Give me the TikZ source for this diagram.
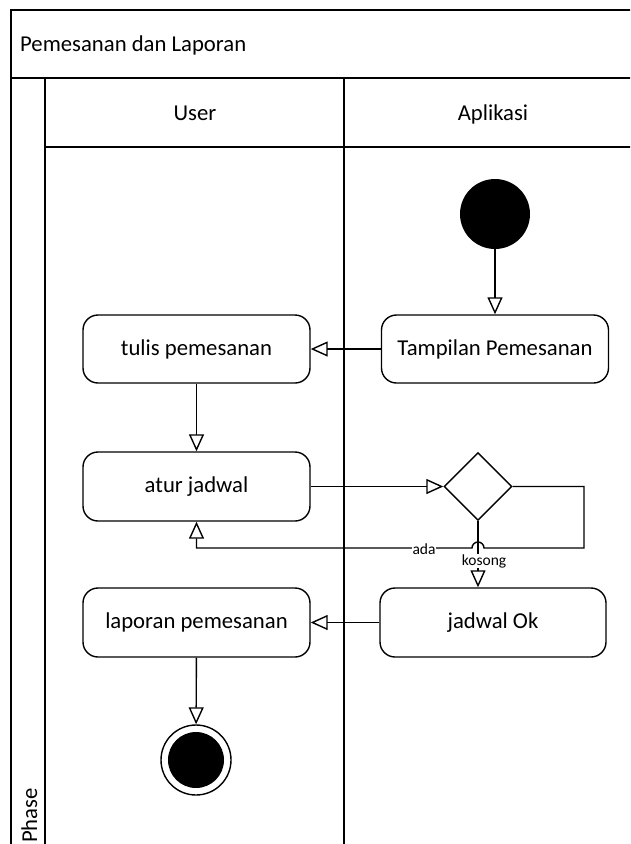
\documentclass[tikz,border=0pt]{standalone}
\usepackage{fontspec}
\setmainfont{Carlito}
\usetikzlibrary{arrows.meta,shapes.geometric}
\begin{document}
\begin{tikzpicture}[x=1pt,y=-1pt,
  ln/.style={line width=1.5pt},
  act/.style={draw,line width=1.4pt,rounded corners=15pt,minimum width=227pt,minimum height=68pt,inner sep=0pt,font=\fontsize{22.7}{27}\selectfont},
  flow/.style={line width=1.4pt,-{Triangle[open,length=17pt,width=15pt,fill=white]}},
  lbl/.style={font=\fontsize{15.5}{18}\selectfont,fill=white,inner sep=0.5pt},
  big/.style={font=\fontsize{22.7}{27}\selectfont,inner sep=0pt}]
\useasboundingbox (0,0) rectangle (630,844);
\fill[white] (0,0) rectangle (630,844);
\clip (0,0) rectangle (630,844);
% frame and lanes
\draw[ln] (11,870) -- (11,10) -- (660,10);
\draw[ln] (11,78) -- (660,78);
\draw[ln] (45,78) -- (45,870);
\draw[ln] (45,147) -- (660,147);
\draw[ln] (344,78) -- (344,870);
\node[big,anchor=west] (title) at (20,45) {Pemesanan dan Laporan};
\node[big,anchor=base] (user) at (195,120) {User};
\node[big,anchor=base] (apl) at (493,120) {Aplikasi};
\node[big,rotate=90,anchor=base west] (phase) at (37,843) {Phase};
% nodes
\node[circle,fill=black,minimum size=70pt,inner sep=0pt] (start) at (495,214) {};
\node[act] (tampil) at (495,349) {Tampilan Pemesanan};
\node[act] (tulis) at (196.5,349) {tulis pemesanan};
\node[act,minimum height=69pt] (atur) at (196.5,486.5) {atur jadwal};
\node[draw,diamond,line width=1.4pt,minimum width=68pt,minimum height=68pt,inner sep=0pt] (dec) at (478,486.5) {};
\node[act,minimum width=226pt,minimum height=69pt] (jadwal) at (493,622.5) {jadwal Ok};
\node[act,minimum height=69pt] (lapor) at (196.5,622.5) {laporan pemesanan};
\node[circle,draw,line width=1.4pt,minimum size=70pt,inner sep=0pt] (end) at (196,760) {};
\node[circle,fill=black,minimum size=56pt,inner sep=0pt] (endin) at (end.center) {};
% connectors
\draw[flow] (start) -- (tampil);
\draw[flow] (tampil) -- (tulis);
\draw[flow] (tulis) -- (atur);
\draw[flow] (atur) -- (dec);
\coordinate (r1) at (584,486.5);
\coordinate (r2) at (584,548);
\coordinate (hopR) at (484,548);
\draw[flow] (dec.east) -- (r1) -- (r2) -- (hopR) arc[start angle=0,end angle=180,radius=6pt] -- (atur.south |- r2) -- (atur.south);
\draw[flow] (dec.south) -- (dec.south |- jadwal.north);
\node[lbl] (ada) at (424,549) {ada};
\node[lbl] (kos) at (484,561) {kosong};
\draw[flow] (jadwal) -- (lapor);
\draw[flow] (lapor) -- (end);
\end{tikzpicture}
\end{document}
